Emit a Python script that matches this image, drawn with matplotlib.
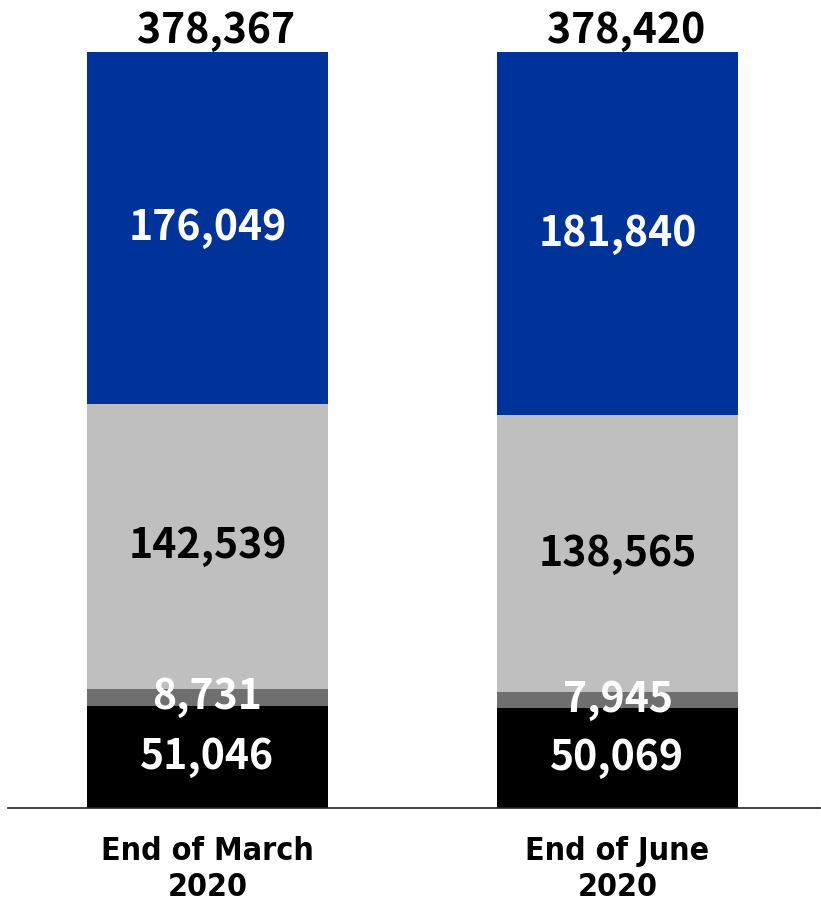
import matplotlib
matplotlib.use("Agg")
import matplotlib.pyplot as plt
import numpy as np

periods = ["End of March\n2020", "End of June\n2020"]
seg_black = [51046, 50069]
seg_dark = [8731, 7945]
seg_light = [142539, 138565]
seg_blue = [176049, 181840]
totals = [378367, 378420]

colors = ["#000000", "#6f6f6f", "#bfbfbf", "#003399"]
text_colors = ["white", "white", "black", "white"]

num_font = ["Noto Sans CJK JP", "DejaVu Sans"]
cat_font = ["DejaVu Sans"]

fig = plt.figure(figsize=(8.21, 9.06), dpi=100)
ax = fig.add_axes([8 / 821, 98 / 906, 812 / 821, 756 / 906])

x = np.arange(len(periods))
width = 0.588
bottom = np.zeros(len(periods))
for vals, col, tcol in zip([seg_black, seg_dark, seg_light, seg_blue], colors, text_colors):
    vals = np.array(vals)
    ax.bar(x, vals, width, bottom=bottom, color=col, linewidth=0)
    for xi, b, v in zip(x, bottom, vals):
        ax.text(xi, b + v / 2, f"{v:,}", ha="center", va="center",
                color=tcol, fontsize=29.5, fontweight="bold", family=num_font)
    bottom += vals

for xi, t in zip(x, totals):
    ax.text(xi + 0.02, max(totals) * 1.012, f"{t:,}", ha="center", va="baseline",
            color="black", fontsize=29.5, fontweight="bold", family=num_font)

ax.set_xlim(-0.4866, 1.4939)
ax.set_ylim(0, max(totals))
ax.set_xticks(x)
ax.set_xticklabels(periods, fontsize=23, fontweight="bold", family=cat_font,
                   fontstretch="condensed", linespacing=1.22)
ax.tick_params(axis="x", length=0, pad=20)
ax.set_yticks([])
for side in ["top", "left", "right"]:
    ax.spines[side].set_visible(False)
ax.spines["bottom"].set_color("#222222")
ax.spines["bottom"].set_linewidth(1.2)

fig.savefig("out.png", dpi=100)
